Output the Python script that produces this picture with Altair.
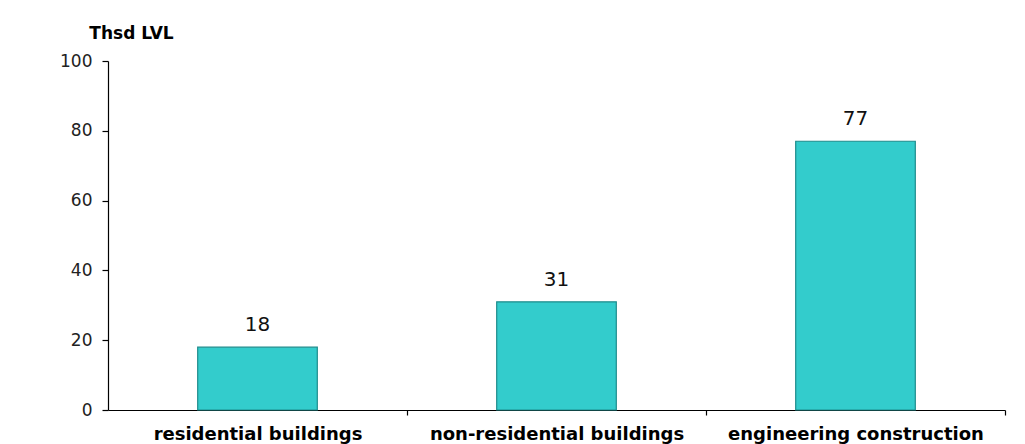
import altair as alt
import pandas as pd

categories = ["residential buildings", "non-residential buildings", "engineering construction"]
values = [18, 31, 77]
y_ticks = [0, 20, 40, 60, 80, 100]

df = pd.DataFrame({"category": categories, "value": values})

FONT = "DejaVu Sans"
PLOT_W = 897
STEP = PLOT_W / len(categories)

x = alt.X(
    "category:N",
    sort=categories,
    scale=alt.Scale(paddingInner=0.6, paddingOuter=0.3),
    axis=alt.Axis(
        title=None, labelAngle=0, labelFont=FONT, labelFontSize=18, labelFontWeight="bold",
        labelColor="#000000", labelPadding=10, ticks=True,
        tickOffset=STEP / 2, labelOffset=-STEP / 2,
        tickSize=5, tickWidth=1.2, tickColor="#000000", domainColor="#000000", domainWidth=1.2,
        labelLimit=400,
    ),
)
y = alt.Y(
    "value:Q",
    scale=alt.Scale(domain=[0, 100]),
    axis=alt.Axis(
        values=y_ticks, title="Thsd LVL", titleAngle=0,
        titleFont=FONT, titleFontSize=17, titleFontWeight="bold", titleColor="#000000",
        titleX=23, titleY=-28, titleAlign="center", titleBaseline="middle",
        labelFont=FONT, labelFontSize=17, labelColor="#222222", labelPadding=10,
        tickSize=6, tickWidth=1.2, tickColor="#000000", domainColor="#000000", domainWidth=1.2,
        grid=False,
    ),
)

bars = alt.Chart(df).mark_bar(color="#33CCCC", stroke="#1E8C8C", strokeWidth=1.2).encode(x=x, y=y)
labels = alt.Chart(df).mark_text(
    font=FONT, fontSize=20, color="#111111", baseline="bottom", dy=-12
).encode(x=alt.X("category:N", sort=categories), y="value:Q", text="value:Q")

chart = (
    alt.layer(bars, labels)
    .properties(
        width=PLOT_W, height=349,
        autosize=alt.AutoSizeParams(type="none"),
        padding={"left": 108, "top": 61, "right": 20, "bottom": 34},
        background="white",
    )
    .configure_view(stroke=None)
)

chart.save("out.html", embed_options={"renderer": "svg", "actions": False})
